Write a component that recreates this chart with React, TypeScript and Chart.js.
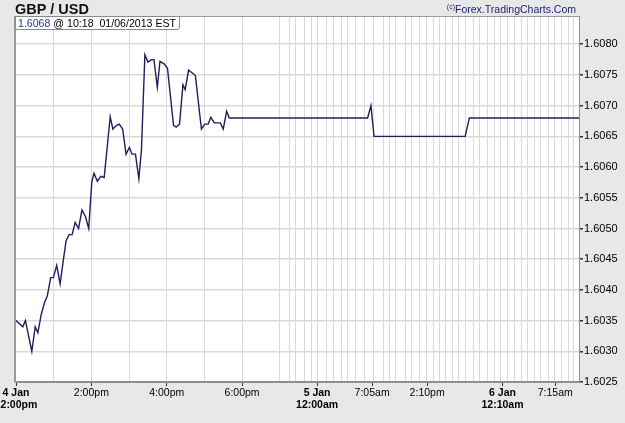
import React, { useEffect, useRef } from "react";
import { Chart, registerables } from "chart.js";

Chart.register(...registerables);

// x = bar position (compressed trading time), y = GBP/USD quote
const PRICE_X = [
  0, 1.8, 2.5, 4.2, 5.1, 5.8, 6.7, 7.6, 8.3, 9.2,
  9.9, 10.8, 11.7, 12.6, 13.3, 14.1, 14.9, 15.7, 16.6, 17.5,
  18.4, 19.3, 20.1, 20.7, 21.6, 22.5, 23.4, 25.0, 25.7, 26.7,
  27.4, 28.3, 29.2, 30.1, 30.8, 31.7, 32.6, 33.3, 34.2, 35.0,
  35.9, 36.6, 37.5, 38.2, 39.3, 40.2, 41.8, 42.5, 43.4, 44.3,
  44.9, 45.8, 47.6, 49.2, 50.1, 51.0, 51.7, 52.6, 54.2, 55.0,
  55.9, 56.6, 93.3, 94.2, 95.0, 119.2, 120.3, 149.4,
];
const PRICE_Y = [
  1.6035, 1.6034, 1.6035, 1.603, 1.6034, 1.6033, 1.6036, 1.6038, 1.6039, 1.6042,
  1.6042, 1.6044, 1.6041, 1.6045, 1.6048, 1.6049, 1.6049, 1.6051, 1.605, 1.6053,
  1.6052, 1.605, 1.60575, 1.6059, 1.60577, 1.60585, 1.60583, 1.60682, 1.60662, 1.60668,
  1.6067, 1.60662, 1.60621, 1.60632, 1.60621, 1.60621, 1.60581, 1.60629, 1.60783, 1.60771,
  1.60775, 1.60775, 1.6073, 1.60772, 1.60768, 1.60761, 1.60668, 1.60665, 1.6067, 1.60734,
  1.60726, 1.60758, 1.60749, 1.60662, 1.6067, 1.6067, 1.60681, 1.60672, 1.60672, 1.60662,
  1.60691, 1.6068, 1.6068, 1.607, 1.6065, 1.6065, 1.6068, 1.6068,
];

// hourly vertical grid lines (bar positions)
const HOUR_GRID = [
  10, 20, 30, 40, 50, 60, 69.8, 72.5, 74.1, 76.5, 78.3, 79.9, 82.3, 84.2, 86.5,
  88.1, 90.0, 92.4, 94.8, 97.4, 99.0, 100.6, 103.3, 104.9, 107.0, 108.8, 110.7,
  112.3, 113.9, 115.7, 117.3, 119.2, 121.3, 122.9, 125.0, 126.9, 128.5, 130.3,
  132.2, 134.1, 135.7, 137.5, 139.1, 141.3, 142.8, 144.7, 146.5, 147.9,
];

const X_LABEL_POS = [0, 20, 40, 60, 79.9, 94.5, 109.1, 129.1, 143.1];
const X_LABELS: (string | string[])[] = [
  ["4 Jan", "12:00pm"],
  "2:00pm",
  "4:00pm",
  "6:00pm",
  ["5 Jan", "12:00am"],
  "7:05am",
  "2:10pm",
  ["6 Jan", "12:10am"],
  "7:15am",
];

const Y_TICKS = [1.6025, 1.603, 1.6035, 1.604, 1.6045, 1.605, 1.6055, 1.606, 1.6065, 1.607, 1.6075, 1.608];
const Y_MIN = 1.6025;
const Y_MAX = 1.60846;
const X_MIN = 0;
const X_MAX = 149.4;

const TITLE = "GBP / USD";
const LAST_PRICE = "1.6068";
const LAST_TIME = " @ 10:18  01/06/2013 EST";
const CREDIT = "Forex.TradingCharts.Com";

const FONT = "'Liberation Sans', Arial, Helvetica, sans-serif";

const plotFrame = {
  id: "plotFrame",
  beforeDraw(chart: any) {
    const { ctx, chartArea: a } = chart;
    ctx.save();
    ctx.fillStyle = "#ffffff";
    ctx.fillRect(a.left, a.top, a.right - a.left, a.bottom - a.top);
    ctx.restore();
  },
  beforeDatasetsDraw(chart: any) {
    const { ctx, chartArea: a } = chart;
    ctx.save();
    ctx.strokeStyle = "#9a9a9a";
    ctx.lineWidth = 1;
    ctx.beginPath();
    ctx.moveTo(a.left, a.top + 0.5);
    ctx.lineTo(a.right, a.top + 0.5);
    ctx.stroke();
    ctx.lineWidth = 2;
    ctx.beginPath();
    ctx.moveTo(a.left - 1, a.top);
    ctx.lineTo(a.left - 1, a.bottom);
    ctx.stroke();
    ctx.restore();
  },
};

export default function App() {
  const ref = useRef<HTMLCanvasElement | null>(null);

  useEffect(() => {
    if (!ref.current) return;
    const data = PRICE_X.map((x, i) => ({ x, y: PRICE_Y[i] }));
    const chart = new Chart(ref.current, {
      type: "line",
      data: {
        datasets: [
          {
            data,
            borderColor: "#1f1f5c",
            borderWidth: 1.4,
            pointRadius: 0,
            tension: 0,
            fill: false,
          },
        ],
      },
      options: {
        animation: false,
        responsive: false,
        devicePixelRatio: 1,
        layout: { padding: { left: 16, top: 16, right: 0, bottom: 0 } },
        plugins: { legend: { display: false }, tooltip: { enabled: false }, title: { display: false } },
        scales: {
          xg: {
            type: "linear",
            position: "bottom",
            min: X_MIN,
            max: X_MAX,
            weight: 2,
            afterBuildTicks: (s: any) => {
              s.ticks = HOUR_GRID.map((v) => ({ value: v }));
            },
            afterFit: (s: any) => {
              s.height = 0;
              s.paddingLeft = 0;
              s.paddingRight = 0;
            },
            ticks: { display: false },
            grid: { color: "#d9d9d9", lineWidth: 1, drawTicks: false },
            border: { display: false },
          },
          x: {
            type: "linear",
            position: "bottom",
            min: X_MIN,
            max: X_MAX,
            weight: 1,
            afterBuildTicks: (s: any) => {
              s.ticks = X_LABEL_POS.map((v) => ({ value: v }));
            },
            afterFit: (s: any) => {
              s.height = 41;
              s.paddingLeft = 0;
              s.paddingRight = 0;
            },
            ticks: {
              autoSkip: false,
              maxRotation: 0,
              minRotation: 0,
              padding: 1,
              color: "#000000",
              callback: (_v: any, i: number) => X_LABELS[i],
              font: (c: any) => ({
                family: FONT,
                size: 10.5,
                lineHeight: 1.15,
                weight: Array.isArray(X_LABELS[c.index]) ? "bold" : "normal",
              }),
            },
            grid: { drawOnChartArea: false, drawTicks: true, tickLength: 4, tickColor: "#333333", color: "#333333" },
            border: { display: true, color: "#8f8f8f", width: 2 },
          },
          y: {
            type: "linear",
            position: "right",
            min: Y_MIN,
            max: Y_MAX,
            afterBuildTicks: (s: any) => {
              s.ticks = Y_TICKS.map((v) => ({ value: v }));
            },
            afterFit: (s: any) => {
              s.width = 46;
              s.paddingTop = 0;
              s.paddingBottom = 0;
            },
            ticks: {
              padding: 1,
              color: "#000000",
              font: { family: FONT, size: 11 },
              callback: (v: any) => Number(v).toFixed(4),
            },
            grid: { color: "#d9d9d9", lineWidth: 1.5, tickLength: 4, tickColor: "#333333" },
            border: { display: true, color: "#8f8f8f", width: 1 },
          },
        },
      },
      plugins: [plotFrame],
    } as any);
    return () => chart.destroy();
  }, []);

  return (
    <div
      style={{
        position: "absolute",
        left: 0,
        top: 0,
        width: 625,
        height: 423,
        background: "#e8e8e8",
        fontFamily: FONT,
        overflow: "hidden",
      }}
    >
      <canvas ref={ref} width={625} height={423} style={{ position: "absolute", left: 0, top: 0 }} />
      <div
        style={{
          position: "absolute",
          left: 15,
          top: 1,
          fontSize: 14.5,
          lineHeight: "16px",
          fontWeight: "bold",
          color: "#111111",
          whiteSpace: "nowrap",
        }}
      >
        {TITLE}
      </div>
      <div
        style={{
          position: "absolute",
          left: 15,
          top: 16,
          width: 161,
          height: 12,
          border: "1px solid #8a8a8a",
          borderRadius: "0 0 3px 0",
          background: "#ffffff",
          fontSize: 10.6,
          lineHeight: "12px",
          paddingLeft: 2,
          whiteSpace: "nowrap",
          color: "#000000",
          boxSizing: "content-box",
        }}
      >
        <span style={{ color: "#23389a" }}>{LAST_PRICE}</span>
        <span style={{ whiteSpace: "pre" }}>{LAST_TIME}</span>
      </div>
      <div
        style={{
          position: "absolute",
          right: 49,
          top: 3,
          fontSize: 10.5,
          lineHeight: "12px",
          color: "#1a1f6e",
          whiteSpace: "nowrap",
        }}
      >
        <span style={{ fontSize: 7, verticalAlign: "top", lineHeight: "8px" }}>(c)</span>
        {CREDIT}
      </div>
    </div>
  );
}
